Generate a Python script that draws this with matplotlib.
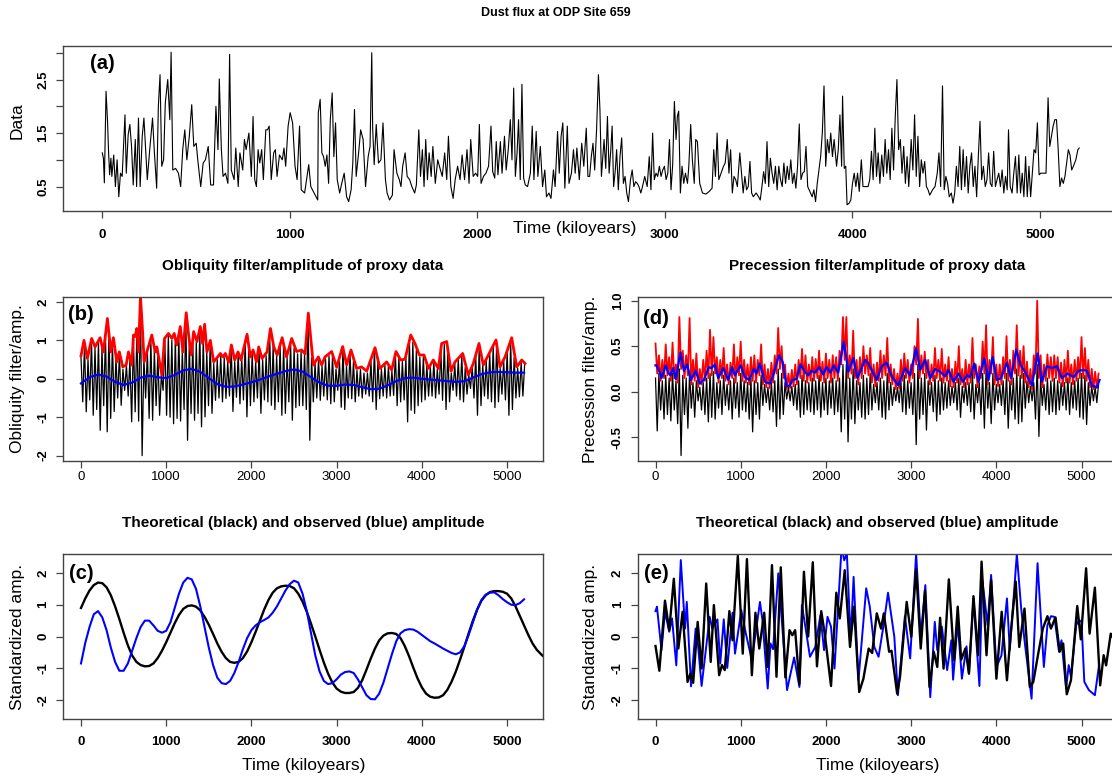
import numpy as np
import matplotlib
matplotlib.use("Agg")
import matplotlib.pyplot as plt

plt.rcParams['font.family'] = ['Liberation Sans', 'DejaVu Sans']
plt.rcParams['axes.unicode_minus'] = False

# ---------------- data ----------------
# (a) dust flux, (kyr, value)
dust_pts = [
    (0, 1.13), (6, 1.03), (11, 0.57), (20, 2.28), (28, 1.72), (33, 1.19), (39, 0.72), (46, 1.03), (51, 0.69), (61, 1.09),
    (70, 0.5), (79, 1.0), (88, 0.31), (97, 0.75), (106, 0.69), (116, 1.44), (121, 1.84), (128, 0.75), (138, 1.47), (147, 1.66),
    (156, 1.25), (165, 0.53), (176, 1.38), (183, 0.5), (193, 1.78), (202, 0.5), (213, 1.44), (222, 1.78), (231, 1.19), (240, 0.63),
    (253, 1.19), (268, 1.78), (277, 1.19), (290, 0.47), (299, 2.0), (308, 2.59), (317, 0.88), (327, 1.0), (336, 2.06), (349, 2.5),
    (360, 1.75), (367, 3.01), (376, 0.81), (391, 0.84), (406, 0.75), (418, 0.5), (429, 1.19), (440, 1.56), (451, 1.0), (464, 1.44),
    (477, 2.03), (488, 1.25), (501, 1.31), (510, 0.97), (525, 0.5), (538, 0.94), (550, 1.0), (565, 1.25), (578, 0.53), (593, 0.53),
    (606, 2.0), (617, 1.19), (624, 2.51), (635, 1.19), (644, 0.69), (657, 0.75), (670, 0.56), (679, 2.97), (688, 0.81), (703, 0.63),
    (712, 1.22), (725, 0.5), (734, 1.13), (749, 0.81), (758, 1.38), (767, 1.19), (782, 1.5), (795, 0.69), (804, 1.81), (813, 0.63),
    (822, 0.5), (831, 1.19), (840, 0.94), (850, 1.19), (859, 0.63), (872, 1.56), (881, 1.56), (890, 1.63), (901, 0.63), (914, 1.13),
    (923, 1.19), (932, 0.69), (945, 1.09), (960, 1.0), (969, 1.22), (978, 0.88), (991, 1.63), (1002, 1.88), (1015, 1.69), (1028, 0.88),
    (1039, 0.63), (1052, 1.63), (1061, 0.44), (1079, 0.38), (1101, 0.91), (1112, 0.5), (1125, 0.41), (1140, 0.31), (1149, 0.25), (1152, 1.88),
    (1162, 2.13), (1171, 1.13), (1180, 1.06), (1189, 0.88), (1198, 1.09), (1207, 0.56), (1216, 1.75), (1226, 2.25), (1235, 1.06), (1244, 1.69),
    (1253, 0.63), (1266, 0.38), (1277, 0.56), (1290, 0.75), (1303, 0.31), (1314, 0.22), (1327, 0.44), (1336, 0.94), (1345, 1.94), (1354, 0.69),
    (1367, 1.13), (1378, 1.56), (1391, 1.38), (1404, 0.5), (1418, 1.06), (1428, 1.25), (1437, 3.0), (1442, 1.59), (1450, 0.91), (1461, 1.66),
    (1473, 0.94), (1486, 1.0), (1497, 1.69), (1510, 0.63), (1519, 0.38), (1532, 0.25), (1547, 0.34), (1556, 1.19), (1571, 0.75), (1584, 0.63),
    (1593, 0.5), (1602, 0.88), (1615, 1.13), (1626, 0.69), (1639, 0.63), (1651, 0.5), (1666, 0.38), (1675, 0.53), (1688, 1.56), (1697, 0.69),
    (1707, 1.19), (1716, 0.5), (1725, 1.38), (1734, 0.63), (1743, 1.13), (1754, 0.69), (1763, 1.25), (1776, 0.56), (1789, 1.0), (1798, 0.88),
    (1813, 0.69), (1826, 1.13), (1837, 0.63), (1846, 1.44), (1859, 0.5), (1871, 0.28), (1882, 0.63), (1895, 0.88), (1908, 0.63), (1919, 1.09),
    (1932, 0.63), (1945, 1.19), (1956, 0.56), (1965, 1.38), (1978, 0.69), (1991, 0.75), (2002, 0.69), (2011, 1.66), (2020, 0.56), (2033, 0.69),
    (2046, 0.75), (2060, 0.88), (2073, 1.63), (2082, 0.78), (2093, 0.66), (2101, 1.34), (2110, 0.72), (2123, 1.34), (2132, 0.75), (2145, 1.44),
    (2154, 0.81), (2165, 1.19), (2176, 1.75), (2185, 1.0), (2194, 2.34), (2203, 0.69), (2212, 1.13), (2220, 1.75), (2229, 0.63), (2238, 2.41),
    (2247, 0.66), (2256, 0.53), (2268, 0.5), (2283, 0.75), (2293, 1.63), (2302, 0.63), (2314, 1.53), (2323, 0.69), (2336, 1.25), (2348, 0.5),
    (2360, 0.81), (2369, 0.31), (2382, 0.38), (2393, 0.28), (2406, 0.81), (2415, 0.5), (2428, 1.53), (2437, 0.75), (2447, 1.44), (2456, 1.69),
    (2467, 0.47), (2480, 1.63), (2489, 0.56), (2502, 0.75), (2513, 1.19), (2522, 0.75), (2531, 1.22), (2544, 0.63), (2557, 1.31), (2568, 0.88),
    (2581, 1.59), (2590, 0.69), (2599, 0.69), (2608, 1.06), (2617, 1.31), (2626, 0.81), (2636, 1.56), (2646, 2.59), (2654, 1.94), (2662, 0.69),
    (2676, 1.38), (2685, 0.84), (2694, 1.81), (2703, 0.75), (2712, 1.19), (2719, 1.63), (2727, 0.5), (2736, 0.81), (2743, 1.19), (2752, 0.44),
    (2761, 1.06), (2770, 1.41), (2779, 0.56), (2788, 0.69), (2797, 0.38), (2806, 0.22), (2817, 0.63), (2826, 0.81), (2835, 0.5), (2844, 0.59),
    (2853, 0.56), (2862, 0.5), (2872, 0.38), (2881, 0.5), (2893, 0.69), (2906, 0.5), (2917, 1.06), (2926, 0.44), (2935, 1.5), (2944, 0.63),
    (2953, 0.75), (2962, 0.69), (2971, 0.88), (2980, 0.69), (2989, 0.81), (2998, 0.88), (3007, 0.63), (3016, 0.75), (3025, 1.38), (3033, 0.44),
    (3042, 0.91), (3051, 2.09), (3060, 1.38), (3067, 1.81), (3074, 1.91), (3083, 0.38), (3092, 0.88), (3101, 0.56), (3110, 0.75), (3121, 0.56),
    (3128, 0.88), (3138, 1.66), (3147, 1.0), (3157, 0.56), (3165, 1.38), (3174, 1.34), (3186, 0.56), (3201, 0.38), (3219, 0.36), (3237, 0.41),
    (3252, 0.47), (3261, 1.19), (3270, 0.69), (3279, 1.5), (3288, 0.63), (3300, 0.75), (3313, 0.88), (3322, 0.94), (3333, 1.38), (3342, 0.75),
    (3351, 1.19), (3360, 0.38), (3369, 0.69), (3378, 0.63), (3387, 0.5), (3400, 1.13), (3409, 0.75), (3418, 0.38), (3427, 0.69), (3436, 0.44),
    (3445, 0.5), (3454, 0.97), (3463, 0.38), (3472, 0.31), (3487, 0.38), (3500, 0.31), (3509, 0.25), (3518, 0.5), (3527, 0.78), (3536, 0.56),
    (3545, 1.34), (3554, 0.5), (3563, 1.03), (3572, 0.75), (3581, 0.56), (3590, 0.88), (3599, 0.44), (3608, 0.88), (3617, 0.63), (3626, 0.5),
    (3635, 0.94), (3644, 0.56), (3653, 0.88), (3662, 0.63), (3672, 1.0), (3681, 0.56), (3690, 0.75), (3699, 0.47), (3708, 0.88), (3717, 1.67),
    (3726, 0.63), (3735, 0.75), (3744, 0.78), (3753, 1.25), (3762, 0.5), (3777, 0.38), (3786, 0.31), (3795, 0.44), (3804, 0.22), (3813, 0.56),
    (3822, 0.81), (3831, 1.06), (3840, 1.5), (3849, 2.38), (3858, 0.88), (3867, 1.38), (3876, 1.13), (3885, 1.5), (3894, 1.06), (3903, 1.38),
    (3916, 0.88), (3925, 1.19), (3934, 1.84), (3943, 0.88), (3948, 2.19), (3957, 0.84), (3965, 0.88), (3972, 0.16), (3983, 0.19), (3992, 0.25),
    (4001, 0.56), (4010, 0.75), (4019, 0.5), (4028, 0.75), (4037, 0.41), (4048, 1.0), (4057, 0.5), (4070, 0.5), (4084, 0.5), (4093, 0.63),
    (4102, 1.16), (4111, 0.63), (4120, 1.59), (4129, 0.69), (4138, 1.13), (4147, 0.56), (4157, 1.09), (4166, 0.69), (4175, 1.38), (4184, 0.75),
    (4193, 1.19), (4202, 0.63), (4211, 1.59), (4220, 0.81), (4229, 1.81), (4238, 2.5), (4247, 1.19), (4256, 1.38), (4265, 0.75), (4274, 1.25),
    (4283, 0.56), (4292, 1.06), (4301, 0.5), (4314, 1.38), (4323, 0.81), (4332, 1.84), (4341, 0.69), (4350, 1.44), (4359, 0.5), (4368, 1.0),
    (4377, 0.75), (4386, 0.97), (4395, 0.5), (4404, 0.44), (4413, 0.34), (4428, 0.44), (4441, 0.5), (4453, 0.75), (4462, 1.13), (4471, 0.5),
    (4481, 2.38), (4490, 0.44), (4499, 0.69), (4508, 0.56), (4517, 0.31), (4528, 0.38), (4537, 0.19), (4546, 0.38), (4555, 0.88), (4564, 0.5),
    (4573, 1.25), (4582, 0.44), (4591, 1.19), (4600, 0.5), (4609, 1.06), (4618, 0.38), (4627, 0.88), (4636, 1.13), (4645, 0.5), (4654, 0.88),
    (4663, 0.31), (4672, 1.06), (4681, 1.72), (4690, 0.63), (4699, 0.88), (4709, 0.5), (4718, 0.63), (4727, 1.13), (4736, 0.56), (4745, 0.5),
    (4754, 1.16), (4763, 0.5), (4772, 0.63), (4781, 0.75), (4790, 0.5), (4799, 0.81), (4808, 0.38), (4817, 0.69), (4826, 0.44), (4833, 1.56),
    (4842, 0.5), (4852, 0.38), (4861, 0.75), (4870, 1.06), (4879, 0.38), (4888, 1.09), (4897, 0.38), (4906, 0.75), (4915, 0.31), (4924, 1.06),
    (4933, 0.31), (4942, 0.88), (4951, 0.31), (4960, 0.75), (4969, 1.19), (4978, 1.13), (4987, 1.69), (4996, 0.72), (5005, 0.75), (5020, 0.75),
    (5033, 0.75), (5044, 2.16), (5053, 1.25), (5062, 1.44), (5071, 1.63), (5080, 1.75), (5089, 1.75), (5098, 1.19), (5107, 0.5), (5116, 0.66),
    (5125, 0.56), (5134, 0.69), (5143, 0.94), (5152, 1.19), (5161, 1.09), (5170, 0.81), (5179, 0.88), (5192, 1.0), (5203, 1.19), (5210, 1.22),
]

# (b) obliquity band: successive peaks / troughs (half a 41 kyr cycle apart)
obl_hi = [
    0.55, 0.9, 0.5, 1.0, 0.8, 0.95, 0.8, 1.15, 1.25, 0.95,
    0.55, 0.65, 0.25, 0.35, 0.5, 1.05, 1.25, 2.05, 0.55, 0.7,
    1.0, 0.75, 0.65, 0.1, 1.0, 1.12, 1.0, 1.05, 1.15, 0.75,
    1.65, 0.95, 0.95, 0.95, 1.25, 1.05, 0.7, 0.95, 0.4, 0.5,
    0.6, 0.55, 0.45, 0.85, 0.45, 0.65, 0.55, 0.95, 0.75, 0.65,
    0.45, 0.75, 0.5, 0.6, 1.2, 0.85, 0.6, 0.85, 0.85, 0.55,
    0.95, 0.8, 0.65, 0.7, 0.65, 1.65, 0.55, 0.4, 0.52, 0.33,
    0.52, 0.6, 0.6, 0.25, 0.45, 0.8, 0.33, 0.68, 0.45, 0.22,
    0.25, 0.15, 0.15, 0.45, 0.75, 0.45, 0.25, 0.35, 0.33, 0.2,
    0.63, 0.55, 0.45, 0.55, 1.0, 0.95, 0.75, 0.57, 0.57, 0.35,
    0.3, 0.44, 0.25, 0.75, 0.9, 0.7, 0.15, 0.38, 0.5, 0.6,
    0.3, 0.1, 0.3, 0.6, 0.87, 0.37, 0.45, 0.65, 0.85, 0.93,
    0.27, 0.47, 0.7, 0.95, 0.55, 0.28, 0.42, 0.37,
]
obl_lo = [
    -0.6, -0.86, -0.55, -0.95, -0.8, -1.34, -0.7, -1.38, -1.03, -0.85,
    -0.5, -0.69, -0.3, -0.45, -1.12, -0.86, -1.1, -2.0, -0.5, -1.03,
    -1.08, -0.7, -0.95, -0.3, -0.95, -1.0, -1.17, -1.03, -1.1, -0.8,
    -1.6, -0.9, -1.08, -0.9, -1.25, -0.99, -0.7, -0.9, -0.56, -0.5,
    -0.6, -0.51, -0.45, -0.85, -0.48, -0.65, -0.55, -0.99, -0.7, -0.6,
    -0.5, -0.9, -0.55, -0.6, -0.69, -0.8, -0.6, -0.95, -0.9, -0.6,
    -1.08, -0.75, -0.7, -0.7, -0.8, -1.6, -0.6, -0.5, -0.56, -0.45,
    -0.55, -0.65, -0.6, -0.3, -0.74, -0.8, -0.5, -0.52, -0.6, -0.45,
    -0.5, -0.4, -0.45, -0.6, -0.8, -0.52, -0.45, -0.5, -0.45, -0.43,
    -0.7, -0.6, -0.55, -1.12, -0.82, -0.9, -0.7, -0.6, -0.55, -0.45,
    -0.45, -0.5, -0.4, -0.56, -0.8, -0.6, -0.3, -0.45, -0.55, -0.6,
    -0.4, -0.25, -0.5, -0.95, -0.7, -0.45, -0.52, -0.6, -0.75, -0.6,
    -0.4, -0.55, -0.95, -0.8, -0.5, -0.47, -0.45,
]
obl_amp_pts = [
    (0, 0.6), (35, 1.0), (75, 0.53), (125, 1.05), (165, 0.83), (224, 1.07), (263, 0.7), (310, 1.57), (350, 0.7), (380, 1.07),
    (420, 0.44), (450, 0.7), (490, 0.31), (530, 0.36), (557, 0.7), (596, 0.36), (616, 1.14), (635, 1.1), (655, 1.31), (675, 0.7),
    (698, 2.14), (725, 1.14), (741, 0.44), (773, 0.7), (831, 1.14), (871, 0.7), (890, 0.83), (949, 0.1), (980, 1.05), (1027, 1.18),
    (1067, 1.05), (1094, 1.18), (1125, 0.88), (1165, 1.36), (1196, 0.7), (1235, 1.72), (1263, 1.14), (1294, 0.62), (1322, 1.23), (1361, 0.97),
    (1400, 1.36), (1427, 0.92), (1451, 1.42), (1478, 0.7), (1518, 1.0), (1557, 0.44), (1604, 0.57), (1635, 0.66), (1667, 0.57), (1694, 0.66),
    (1733, 0.43), (1765, 0.88), (1804, 0.49), (1843, 0.7), (1878, 0.49), (1949, 1.16), (1988, 0.57), (2020, 0.75), (2059, 0.44), (2086, 0.83),
    (2125, 0.53), (2184, 0.7), (2224, 1.31), (2263, 0.83), (2302, 0.62), (2361, 1.07), (2412, 0.57), (2473, 1.05), (2531, 0.71), (2590, 0.75),
    (2630, 0.65), (2668, 1.71), (2727, 0.36), (2786, 0.57), (2825, 0.36), (2864, 0.57), (2942, 0.71), (3001, 0.3), (3071, 0.84), (3118, 0.36),
    (3169, 0.75), (3235, 0.27), (3294, 0.31), (3353, 0.2), (3451, 0.81), (3509, 0.27), (3588, 0.44), (3646, 0.23), (3697, 0.71), (3752, 0.49),
    (3803, 0.51), (3870, 1.14), (3920, 0.92), (3971, 0.62), (4026, 0.62), (4077, 0.27), (4135, 0.49), (4194, 0.27), (4233, 0.92), (4292, 0.97),
    (4343, 0.2), (4390, 0.44), (4480, 0.66), (4546, 0.1), (4605, 0.4), (4671, 0.92), (4722, 0.36), (4781, 0.62), (4871, 1.01), (4918, 0.31),
    (4977, 0.57), (5055, 1.07), (5114, 0.31), (5173, 0.49), (5211, 0.4),
]
# smooth blue curve in (b), every 100 kyr
obl_trend = [
    -0.12, 0.04, 0.11, 0.06, -0.08, -0.16, -0.1, 0.03, 0.08, 0.04,
    0.02, 0.1, 0.22, 0.26, 0.18, 0.02, -0.14, -0.21, -0.2, -0.15,
    -0.09, -0.02, 0.06, 0.13, 0.2, 0.245, 0.19, 0.04, -0.1, -0.18,
    -0.18, -0.15, -0.16, -0.22, -0.27, -0.26, -0.17, -0.06, 0.02, 0.03,
    0.0, -0.02, -0.04, -0.06, -0.08, -0.06, 0.03, 0.12, 0.17, 0.18,
    0.17, 0.16, 0.16,
]

# (d) precession band: peaks / troughs of the filter and of its amplitude (20 kyr apart)
prec_hi = [
    0.15, 0.2, 0.12, 0.18, 0.15, 0.2, 0.12, 0.25, 0.18, 0.15,
    0.22, 0.1, 0.12, 0.05, 0.1, 0.15, 0.2, 0.22, 0.1, 0.12,
    0.18, 0.08, 0.12, 0.15, 0.1, 0.2, 0.12, 0.1, 0.15, 0.12,
    0.1, 0.18, 0.08, 0.05, 0.1, 0.12, 0.25, 0.2, 0.1, 0.05,
    0.06, 0.08, 0.12, 0.18, 0.12, 0.1, 0.15, 0.12, 0.18, 0.1,
    0.15, 0.12, 0.15, 0.12, 0.15, 0.3, 0.3, 0.15, 0.25, 0.12,
    0.1, 0.18, 0.15, 0.2, 0.08, 0.1, 0.15, 0.12, 0.2, 0.1,
    0.05, 0.05, 0.12, 0.18, 0.12, 0.1, 0.2, 0.3, 0.15, 0.2,
    0.12, 0.1, 0.18, 0.12, 0.15, 0.1, 0.12, 0.06, 0.1, 0.15,
    0.06, 0.1, 0.1, 0.2, 0.08, 0.1, 0.2, 0.25, 0.1, 0.2,
    0.08, 0.08, 0.12, 0.2, 0.12, 0.15, 0.25, 0.18, 0.2, 0.12,
    0.06, 0.1, 0.3, 0.15, 0.08, 0.15, 0.12, 0.15, 0.12, 0.1,
    0.1, 0.15, 0.1, 0.12, 0.15, 0.2, 0.18, 0.1, 0.06, 0.05,
    0.08,
]
prec_lo = [
    -0.43, -0.2, -0.3, -0.25, -0.32, -0.2, -0.35, -0.7, -0.25, -0.4,
    -0.18, -0.28, -0.1, -0.2, -0.25, -0.33, -0.28, -0.3, -0.18, -0.25,
    -0.15, -0.2, -0.3, -0.18, -0.28, -0.2, -0.22, -0.3, -0.44, -0.25,
    -0.3, -0.15, -0.12, -0.2, -0.22, -0.38, -0.3, -0.25, -0.08, -0.1,
    -0.15, -0.2, -0.28, -0.25, -0.2, -0.22, -0.25, -0.2, -0.28, -0.2,
    -0.25, -0.18, -0.25, -0.22, -0.44, -0.3, -0.55, -0.3, -0.35, -0.2,
    -0.28, -0.3, -0.25, -0.2, -0.12, -0.2, -0.28, -0.3, -0.2, -0.15,
    -0.1, -0.12, -0.22, -0.25, -0.18, -0.25, -0.58, -0.3, -0.25, -0.42,
    -0.15, -0.22, -0.32, -0.25, -0.2, -0.18, -0.15, -0.12, -0.2, -0.28,
    -0.12, -0.15, -0.22, -0.3, -0.12, -0.25, -0.4, -0.18, -0.35, -0.2,
    -0.12, -0.15, -0.25, -0.4, -0.2, -0.3, -0.35, -0.33, -0.18, -0.12,
    -0.1, -0.3, -0.49, -0.15, -0.2, -0.25, -0.22, -0.25, -0.2, -0.15,
    -0.2, -0.25, -0.18, -0.2, -0.28, -0.3, -0.36, -0.15, -0.1, -0.12,
]
prec_amp_hi = [
    0.53, 0.4, 0.35, 0.52, 0.38, 0.54, 0.3, 0.82, 0.45, 0.4,
    0.81, 0.35, 0.42, 0.25, 0.35, 0.45, 0.68, 0.6, 0.38, 0.35,
    0.48, 0.3, 0.32, 0.52, 0.38, 0.55, 0.35, 0.3, 0.38, 0.4,
    0.35, 0.52, 0.3, 0.25, 0.32, 0.4, 0.7, 0.5, 0.3, 0.2,
    0.24, 0.3, 0.35, 0.47, 0.4, 0.3, 0.38, 0.36, 0.45, 0.33,
    0.42, 0.35, 0.4, 0.38, 0.45, 0.82, 0.82, 0.4, 0.67, 0.35,
    0.38, 0.5, 0.4, 0.48, 0.3, 0.32, 0.45, 0.4, 0.59, 0.3,
    0.25, 0.2, 0.35, 0.42, 0.35, 0.3, 0.5, 0.8, 0.4, 0.44,
    0.35, 0.3, 0.48, 0.35, 0.47, 0.3, 0.38, 0.25, 0.33, 0.5,
    0.25, 0.35, 0.3, 0.59, 0.3, 0.28, 0.55, 0.73, 0.35, 0.6,
    0.3, 0.3, 0.38, 0.61, 0.35, 0.45, 0.73, 0.45, 0.5, 0.33,
    0.25, 0.4, 1.0, 0.4, 0.3, 0.41, 0.38, 0.4, 0.38, 0.32,
    0.35, 0.45, 0.3, 0.35, 0.38, 0.6, 0.48, 0.35, 0.25, 0.22,
    0.2,
]
prec_amp_lo = [
    0.2, 0.12, 0.15, 0.18, 0.12, 0.15, 0.1, 0.25, 0.15, 0.18,
    0.08, 0.12, 0.05, 0.08, 0.12, 0.15, 0.18, 0.2, 0.1, 0.15,
    0.12, 0.08, 0.15, 0.1, 0.18, 0.12, 0.1, 0.08, 0.12, 0.1,
    0.18, 0.08, 0.05, 0.04, 0.1, 0.2, 0.25, 0.15, 0.03, 0.04,
    0.06, 0.08, 0.15, 0.12, 0.1, 0.12, 0.12, 0.15, 0.12, 0.1,
    0.15, 0.1, 0.15, 0.12, 0.3, 0.35, 0.15, 0.2, 0.15, 0.08,
    0.15, 0.2, 0.18, 0.1, 0.06, 0.12, 0.15, 0.18, 0.1, 0.08,
    0.03, 0.04, 0.12, 0.15, 0.1, 0.15, 0.3, 0.15, 0.2, 0.15,
    0.08, 0.12, 0.15, 0.12, 0.1, 0.12, 0.06, 0.05, 0.1, 0.08,
    0.05, 0.08, 0.1, 0.15, 0.05, 0.15, 0.2, 0.08, 0.2, 0.08,
    0.06, 0.08, 0.15, 0.12, 0.08, 0.2, 0.18, 0.15, 0.1, 0.05,
    0.03, 0.2, 0.15, 0.05, 0.12, 0.15, 0.12, 0.15, 0.1, 0.06,
    0.1, 0.1, 0.08, 0.12, 0.15, 0.15, 0.12, 0.05, 0.03, 0.04,
]
prec_amp_smooth_pts = [
    (0, 0.29), (12, 0.29), (51, 0.21), (70, 0.15), (121, 0.29), (149, 0.21), (176, 0.18), (207, 0.26), (239, 0.14), (293, 0.43),
    (333, 0.23), (372, 0.3), (415, 0.13), (473, 0.23), (520, 0.09), (567, 0.13), (626, 0.27), (657, 0.26), (696, 0.3), (736, 0.15),
    (794, 0.26), (853, 0.13), (900, 0.27), (931, 0.18), (998, 0.29), (1049, 0.16), (1099, 0.13), (1154, 0.25), (1185, 0.2), (1225, 0.31),
    (1283, 0.11), (1342, 0.09), (1381, 0.18), (1448, 0.4), (1491, 0.33), (1538, 0.06), (1577, 0.07), (1608, 0.13), (1655, 0.14), (1702, 0.3),
    (1753, 0.22), (1792, 0.18), (1831, 0.23), (1870, 0.21), (1921, 0.27), (1968, 0.19), (2007, 0.27), (2054, 0.21), (2093, 0.29), (2144, 0.21),
    (2210, 0.55), (2263, 0.22), (2322, 0.37), (2369, 0.15), (2459, 0.35), (2498, 0.31), (2596, 0.13), (2655, 0.28), (2713, 0.32), (2772, 0.17),
    (2850, 0.07), (2929, 0.26), (2988, 0.18), (3059, 0.48), (3106, 0.24), (3165, 0.35), (3224, 0.15), (3282, 0.25), (3341, 0.22), (3400, 0.17),
    (3439, 0.24), (3498, 0.11), (3557, 0.2), (3608, 0.11), (3655, 0.18), (3694, 0.16), (3741, 0.31), (3792, 0.11), (3858, 0.37), (3909, 0.13),
    (3956, 0.38), (4007, 0.13), (4054, 0.15), (4125, 0.32), (4172, 0.15), (4235, 0.46), (4282, 0.3), (4348, 0.2), (4418, 0.07), (4485, 0.42),
    (4535, 0.11), (4594, 0.28), (4653, 0.26), (4711, 0.28), (4770, 0.15), (4836, 0.2), (4907, 0.16), (4966, 0.23), (5024, 0.24), (5063, 0.23),
    (5122, 0.07), (5180, 0.05), (5212, 0.13),
]

# (c) standardized amplitude, every 50 kyr
obl_obs = [
    -0.85, -0.2, 0.3, 0.7, 0.8, 0.6, 0.2, -0.35, -0.8, -1.08,
    -1.08, -0.85, -0.45, -0.05, 0.3, 0.5, 0.5, 0.35, 0.18, 0.12,
    0.18, 0.45, 0.9, 1.35, 1.7, 1.85, 1.8, 1.5, 0.95, 0.3,
    -0.35, -0.9, -1.3, -1.47, -1.5, -1.4, -1.15, -0.8, -0.4, -0.05,
    0.2, 0.35, 0.45, 0.52, 0.6, 0.75, 0.95, 1.2, 1.45, 1.65,
    1.76, 1.7, 1.35, 0.8, 0.1, -0.6, -1.1, -1.4, -1.5, -1.47,
    -1.35, -1.2, -1.12, -1.1, -1.15, -1.35, -1.6, -1.85, -1.97, -1.98,
    -1.8, -1.45, -1.0, -0.55, -0.15, 0.1, 0.2, 0.23, 0.22, 0.15,
    0.05, -0.05, -0.15, -0.22, -0.3, -0.38, -0.45, -0.52, -0.56, -0.5,
    -0.3, 0.05, 0.45, 0.85, 1.15, 1.32, 1.38, 1.39, 1.3, 1.18,
    1.08, 1.0, 0.99, 1.05, 1.17,
]
obl_theo = [
    0.9, 1.2, 1.45, 1.62, 1.7, 1.68, 1.55, 1.3, 0.95, 0.55,
    0.12, -0.28, -0.6, -0.8, -0.9, -0.94, -0.93, -0.85, -0.68, -0.45,
    -0.18, 0.12, 0.42, 0.68, 0.87, 0.96, 0.98, 0.94, 0.82, 0.62,
    0.37, 0.08, -0.22, -0.48, -0.68, -0.8, -0.83, -0.8, -0.68, -0.47,
    -0.18, 0.15, 0.5, 0.85, 1.15, 1.38, 1.52, 1.58, 1.6, 1.59,
    1.52, 1.35, 1.1, 0.78, 0.4, 0.0, -0.42, -0.82, -1.17, -1.45,
    -1.64, -1.74, -1.78, -1.78, -1.75, -1.62, -1.38, -1.05, -0.7, -0.38,
    -0.12, 0.03, 0.1, 0.11, 0.08, -0.05, -0.3, -0.62, -0.98, -1.32,
    -1.6, -1.8, -1.9, -1.93, -1.92, -1.85, -1.68, -1.42, -1.1, -0.72,
    -0.32, 0.1, 0.5, 0.85, 1.13, 1.3, 1.4, 1.43, 1.43, 1.41,
    1.35, 1.2, 0.95, 0.65, 0.35, 0.05, -0.22, -0.42, -0.56, -0.68,
    -0.8,
]

# (e) standardized amplitude, turning points (kyr, value)
prec_theo_pts = [
    (0, -0.3), (45, -1.08), (111, 1.13), (161, 0.2), (215, 1.82), (268, -0.38), (318, 0.78), (376, -1.43), (409, -1.17), (442, -1.46),
    (495, 0.46), (541, -1.01), (595, 1.67), (648, -0.8), (685, 0.99), (747, -1.22), (780, -0.9), (813, -1.06), (867, 0.8), (904, -0.12),
    (966, 2.54), (1024, -0.54), (1073, 2.44), (1131, -1.22), (1173, 0.75), (1218, -0.38), (1276, 0.75), (1317, -0.96), (1367, 2.25), (1420, -1.27),
    (1470, 2.18), (1524, -1.29), (1573, 0.2), (1606, 0.04), (1639, 0.2), (1689, -1.5), (1742, 2.04), (1792, 0.0), (1846, 2.34), (1895, -0.94),
    (1945, 0.8), (1986, 0.09), (2060, -1.56), (2122, 1.38), (2163, 0.57), (2221, 2.09), (2283, -0.33), (2329, 0.94), (2391, -1.75), (2440, -1.33),
    (2502, -0.38), (2543, -0.52), (2597, 0.73), (2647, 0.25), (2680, 0.73), (2742, -0.48), (2770, -0.45), (2836, -1.8), (2870, -1.27), (2948, 1.09),
    (3002, -0.01), (3059, 2.12), (3113, -0.38), (3163, 1.44), (3216, -1.59), (3266, -0.48), (3307, -0.96), (3340, 0.59), (3381, -1.01), (3443, 1.8),
    (3505, -0.75), (3547, 0.94), (3588, -0.73), (3637, -0.38), (3679, -1.17), (3732, 1.27), (3786, -0.59), (3827, 2.36), (3885, -0.59), (3939, 1.78),
    (4001, -1.33), (4063, 0.78), (4125, -1.38), (4166, 0.0), (4228, 1.73), (4269, -0.33), (4331, 0.88), (4393, -1.59), (4434, -1.43), (4496, -0.48),
    (4546, 0.25), (4600, 0.64), (4641, 0.25), (4695, 0.6), (4744, -0.48), (4785, -0.22), (4827, -1.82), (4876, -1.38), (4950, 0.96), (4992, -0.09),
    (5054, 2.15), (5095, 0.09), (5157, 1.54), (5219, -1.54), (5260, -0.59), (5289, -0.91), (5343, 0.09), (5400, -0.2), (5450, -0.8),
]
prec_obs_pts = [
    (0, 0.8), (17, 0.94), (70, -0.43), (111, 0.78), (161, 0.15), (194, 0.57), (244, -0.91), (297, 2.41), (347, 0.25), (367, 1.09),
    (417, -1.57), (471, 0.25), (500, -0.3), (541, -1.56), (636, 0.62), (665, 0.25), (727, 0.54), (760, -0.85), (801, 0.54), (842, -0.99),
    (904, 0.75), (933, -0.54), (1007, 0.83), (1060, 0.1), (1131, -0.75), (1226, 1.09), (1255, 0.52), (1317, -1.64), (1350, -0.22), (1380, -0.4),
    (1441, 1.99), (1544, -1.69), (1585, -1.17), (1627, -0.66), (1689, -1.59), (1718, 0.99), (1759, 0.31), (1813, -0.64), (1875, -0.33), (1936, 0.67),
    (1978, -0.43), (2019, 0.62), (2060, 0.31), (2101, -1.01), (2184, 2.83), (2215, 2.4), (2246, 2.62), (2291, -0.12), (2325, 1.88), (2382, -1.38),
    (2473, 1.52), (2515, 0.94), (2568, -0.33), (2618, -0.64), (2680, 0.41), (2729, 1.38), (2803, -0.01), (2845, -1.85), (2927, 0.64), (2989, -0.69),
    (3059, 2.62), (3113, -0.01), (3167, 1.62), (3225, -1.91), (3278, 0.46), (3307, -0.43), (3361, 0.31), (3423, -1.06), (3472, -0.12), (3493, -1.36),
    (3547, 0.46), (3596, -1.33), (3650, -0.31), (3679, -1.17), (3732, 1.2), (3802, -1.56), (3836, 1.78), (3898, 0.36), (3939, 1.94), (4001, -0.96),
    (4060, -0.6), (4125, 1.2), (4158, -0.43), (4241, 2.6), (4290, 0.94), (4331, -0.12), (4414, -1.96), (4484, 2.31), (4558, -0.96), (4600, 0.36),
    (4641, 0.64), (4682, 0.62), (4736, -0.48), (4765, -0.12), (4819, -1.64), (4850, -0.9), (4876, -1.27), (4938, 0.36), (4971, 0.52), (5000, 0.46),
    (5033, -1.43), (5087, -1.69), (5157, -1.85), (5206, -0.9),
]

time_ticks = [0, 1000, 2000, 3000, 4000, 5000]


def zigzag(hi, lo, half_step):
    vals = np.empty(len(hi) + len(lo))
    vals[0::2] = hi
    vals[1::2] = lo
    return np.arange(len(vals)) * half_step, vals


def frame(ax, ylim, yticks, ylabels, xbold=True, xpad=7):
    ax.set_xlim(-209, 5426)
    ax.set_ylim(*ylim)
    for s in ax.spines.values():
        s.set_color('#444444')
        s.set_linewidth(1.0)
    ax.tick_params(direction='out', length=5, width=0.9, color='#444444')
    ax.set_xticks(time_ticks)
    ax.set_xticklabels([str(t) for t in time_ticks],
                       fontweight='bold' if xbold else 'normal', fontsize=9.5)
    ax.tick_params(axis='x', pad=xpad)
    ax.set_yticks(yticks)
    ax.set_yticklabels(ylabels, rotation=90, va='center', fontweight='bold', fontsize=9.5)
    ax.tick_params(axis='y', pad=5)


W, H = 1112, 777
fig = plt.figure(figsize=(W / 100, H / 100), dpi=100)


def box(left, top, right, bottom):
    return fig.add_axes([left / W, 1 - bottom / H, (right - left) / W, (bottom - top) / H])


ax_a = box(63.1, 46, 1119.7, 211)
ax_b = box(63.2, 297, 543.3, 461)
ax_d = box(637.7, 297, 1117.8, 461)
ax_c = box(63.2, 554, 543.3, 719)
ax_e = box(637.7, 554, 1117.8, 719)

# (a)
dust = np.array(dust_pts)
ax_a.plot(dust[:, 0], dust[:, 1], color='black', lw=0.8)
frame(ax_a, (0.044, 3.126), [0.5, 1.0, 1.5, 2.0, 2.5, 3.0],
      ['0.5', '', '1.5', '', '2.5', ''], xpad=8)
ax_a.set_ylabel('Data', fontsize=12.5)
ax_a.yaxis.set_label_coords(-0.036, 0.55)
ax_a.text(0.0255, 0.895, '(a)', transform=ax_a.transAxes, fontsize=14.5,
          fontweight='bold', ha='left', va='center')
fig.text(575 / W, 1 - 229 / H, 'Time (kiloyears)', ha='center', va='center', fontsize=12.5)

# (b)
tb, vb = zigzag(obl_hi, obl_lo, 20.5)
ax_b.plot(tb, vb, color='black', lw=0.9)
amp_b = np.array(obl_amp_pts)
ax_b.plot(amp_b[:, 0], amp_b[:, 1], color='#ff0000', lw=2.0, solid_joinstyle='round')
ax_b.plot(np.arange(len(obl_trend)) * 100, obl_trend, color='#0000ff', lw=1.6)
frame(ax_b, (-2.14, 2.13), [-2, -1, 0, 1, 2], ['-2', '-1', '0', '1', '2'], xbold=False, xpad=2)
ax_b.set_ylabel('Obliquity filter/amp.', fontsize=12.5)
ax_b.yaxis.set_label_coords(-0.08, 0.5)
ax_b.text(0.01, 0.895, '(b)', transform=ax_b.transAxes, fontsize=14.5,
          fontweight='bold', ha='left', va='center')

# (d)
td, vd = zigzag(prec_hi, prec_lo, 20)
ax_d.plot(td, vd, color='black', lw=0.9)
ta, va = zigzag(prec_amp_hi, prec_amp_lo, 20)
ax_d.plot(ta, va, color='#ff0000', lw=1.3)
sm = np.array(prec_amp_smooth_pts)
ax_d.plot(sm[:, 0], sm[:, 1], color='#0000ff', lw=1.6)
frame(ax_d, (-0.76, 1.04), [-0.5, 0.0, 0.5, 1.0], ['-0.5', '0.0', '0.5', '1.0'], xbold=False, xpad=2)
ax_d.set_ylabel('Precession filter/amp.', fontsize=12.5)
ax_d.yaxis.set_label_coords(-0.083, 0.5)
ax_d.text(0.0104, 0.87, '(d)', transform=ax_d.transAxes, fontsize=14.5,
          fontweight='bold', ha='left', va='center')

# (c)
ax_c.plot(np.arange(len(obl_theo)) * 50, obl_theo, color='black', lw=1.7)
ax_c.plot(np.arange(len(obl_obs)) * 50, obl_obs, color='#0000ff', lw=1.5)
frame(ax_c, (-2.6, 2.6), [-2, -1, 0, 1, 2], ['-2', '-1', '0', '1', '2'])
ax_c.set_ylabel('Standardized amp.', fontsize=12.5)
ax_c.yaxis.set_label_coords(-0.08, 0.5)
ax_c.text(0.012, 0.883, '(c)', transform=ax_c.transAxes, fontsize=14.5,
          fontweight='bold', ha='left', va='center')
ax_c.text(0.5, -0.28, 'Time (kiloyears)', transform=ax_c.transAxes,
          ha='center', va='center', fontsize=12.5)

# (e)
pt = np.array(prec_theo_pts)
po = np.array(prec_obs_pts)
ax_e.plot(po[:, 0], po[:, 1], color='#0000ff', lw=1.4, solid_joinstyle='round')
ax_e.plot(pt[:, 0], pt[:, 1], color='black', lw=1.7, solid_joinstyle='round')
frame(ax_e, (-2.6, 2.6), [-2, -1, 0, 1, 2], ['-2', '-1', '0', '1', '2'])
ax_e.set_ylabel('Standardized amp.', fontsize=12.5)
ax_e.yaxis.set_label_coords(-0.083, 0.5)
ax_e.text(0.013, 0.879, '(e)', transform=ax_e.transAxes, fontsize=14.5,
          fontweight='bold', ha='left', va='center')
ax_e.text(0.5, -0.28, 'Time (kiloyears)', transform=ax_e.transAxes,
          ha='center', va='center', fontsize=12.5)

# titles
fig.text(0.5, 1 - 13 / H, 'Dust flux at ODP Site 659', ha='center', va='center',
         fontsize=9, fontweight='bold')
fig.text(303 / W, 1 - 266 / H, 'Obliquity filter/amplitude of proxy data',
         ha='center', va='center', fontsize=11, fontweight='bold')
fig.text(877 / W, 1 - 266 / H, 'Precession filter/amplitude of proxy data',
         ha='center', va='center', fontsize=11, fontweight='bold')
fig.text(303 / W, 1 - 523 / H, 'Theoretical (black) and observed (blue) amplitude',
         ha='center', va='center', fontsize=11, fontweight='bold')
fig.text(877 / W, 1 - 523 / H, 'Theoretical (black) and observed (blue) amplitude',
         ha='center', va='center', fontsize=11, fontweight='bold')

fig.savefig('out.png', dpi=100)
